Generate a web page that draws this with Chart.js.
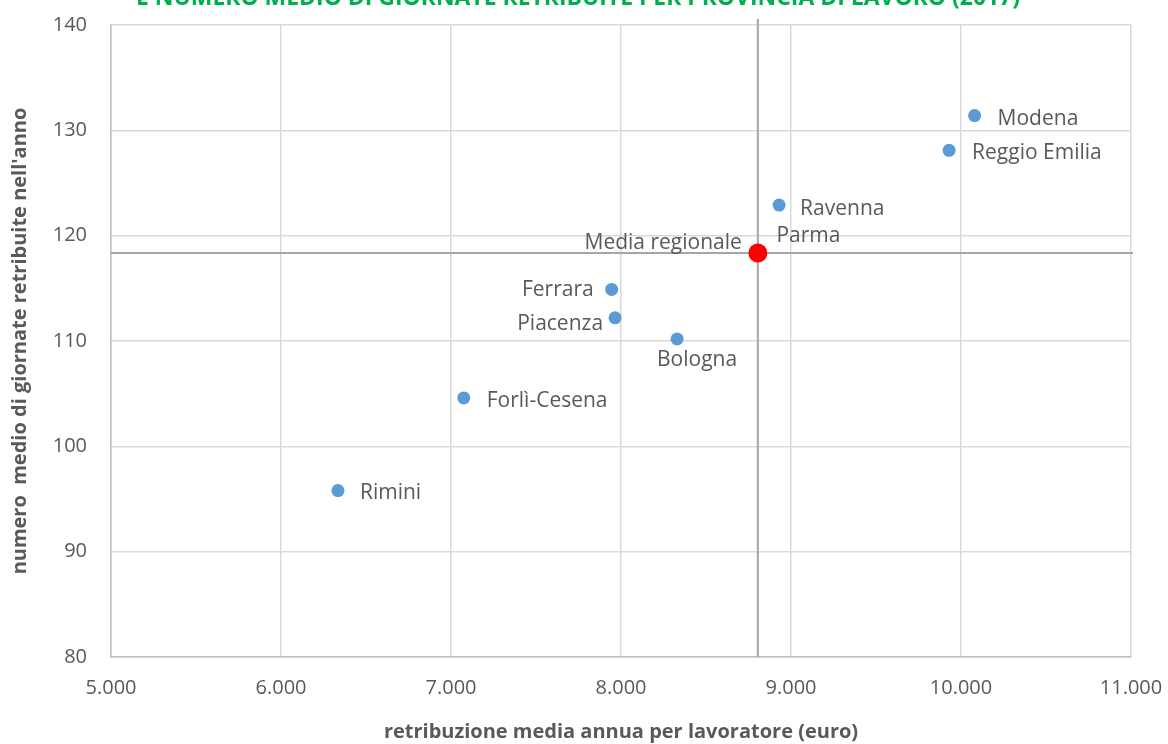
<!DOCTYPE html>
<html>
<head>
<meta charset="utf-8">
<script src="https://cdn.jsdelivr.net/npm/chart.js@4/dist/chart.umd.min.js"></script>
<style>
  html, body { margin: 0; padding: 0; background: #fff; }
  #wrap { width: 1168px; height: 744px; position: relative; }
</style>
</head>
<body>
<div id="wrap"><canvas id="scatterChart"></canvas></div>
<script>
// Province values: average yearly pay per worker (euro) and paid days per year
const provinces = ['Modena', 'Reggio Emilia', 'Ravenna', 'Parma', 'Ferrara', 'Piacenza', 'Bologna', 'Forlì-Cesena', 'Rimini'];
const payValues = [10080, 9930, 8930, 8820, 7945, 7965, 8330, 7075, 6335];
const dayValues = [131.4, 128.1, 122.9, 118.4, 114.9, 112.2, 110.2, 104.6, 95.8];

// Regional average
const mediaLabel = 'Media regionale';
const mediaPay = 8805;
const mediaDays = 118.35;

const xTicks = [5000, 6000, 7000, 8000, 9000, 10000, 11000];
const yTicks = [80, 90, 100, 110, 120, 130, 140];

const titleText = 'E NUMERO MEDIO DI GIORNATE RETRIBUITE PER PROVINCIA DI LAVORO (2017)';
const xTitle = 'retribuzione media annua per lavoratore (euro)';
const yTitle = 'numero  medio di giornate retribuite nell\'anno';

// where each label sits relative to its point: [dx, dy, align]
const labelPlacement = {
    'Modena': [23, 3, 'left'],
    'Reggio Emilia': [23, 3, 'left'],
    'Ravenna': [21, 4, 'left'],
    'Parma': [16, -17, 'left'],
    'Ferrara': [-18, 1, 'right'],
    'Piacenza': [-12, 6, 'right'],
    'Bologna': [20, 21, 'center'],
    'Forlì-Cesena': [23, 3, 'left'],
    'Rimini': [22, 2, 'left'],
    'Media regionale': [-16, -10, 'right']
};

const FONT = '"Open Sans", sans-serif';
const GREY_TEXT = '#595959';

// green heading, cut by the top edge
const headingPlugin = {
    id: 'heading',
    afterDraw(chart) {
        const ctx = chart.ctx;
        ctx.save();
        ctx.fillStyle = '#00b050';
        ctx.font = 'bold 23px ' + FONT;
        ctx.textAlign = 'center';
        ctx.textBaseline = 'alphabetic';
        ctx.fillText(titleText, 578, 5, 884);
        ctx.restore();
    }
};

// crossing lines at the regional average
const averageLinesPlugin = {
    id: 'averageLines',
    beforeDatasetsDraw(chart) {
        const ctx = chart.ctx;
        const x = chart.scales.x.getPixelForValue(mediaPay);
        const y = chart.scales.y.getPixelForValue(mediaDays);
        const area = chart.chartArea;
        ctx.save();
        ctx.strokeStyle = '#a6a6a6';
        ctx.lineWidth = 2;
        ctx.beginPath();
        ctx.moveTo(area.left, y);
        ctx.lineTo(area.right + 2, y);
        ctx.moveTo(x, area.top - 6);
        ctx.lineTo(x, area.bottom);
        ctx.stroke();
        ctx.restore();
    }
};

// province names next to the points
const pointLabelsPlugin = {
    id: 'pointLabels',
    afterDatasetsDraw(chart) {
        const ctx = chart.ctx;
        ctx.save();
        ctx.font = '21px ' + FONT;
        ctx.fillStyle = GREY_TEXT;
        ctx.textBaseline = 'middle';
        chart.data.datasets.forEach((ds, i) => {
            const meta = chart.getDatasetMeta(i);
            meta.data.forEach((pt, j) => {
                const name = ds.names[j];
                const p = labelPlacement[name];
                if (!p) return;
                ctx.textAlign = p[2];
                ctx.fillText(name, pt.x + p[0], pt.y + p[1]);
            });
        });
        ctx.restore();
    }
};

// keep tick labels from pushing the plot area around
function noOverflow(scale) {
    scale.paddingLeft = 0;
    scale.paddingRight = 0;
    scale.paddingTop = 0;
    scale.paddingBottom = 0;
}

const ctx = document.getElementById('scatterChart').getContext('2d');
const chart = new Chart(ctx, {
    type: 'scatter',
    data: {
        datasets: [{
            names: provinces,
            data: provinces.map((p, i) => ({ x: payValues[i], y: dayValues[i] })),
            backgroundColor: '#5b9bd5',
            borderWidth: 0,
            pointRadius: 6.5,
            order: 1
        }, {
            names: [mediaLabel],
            data: [{ x: mediaPay, y: mediaDays }],
            backgroundColor: '#ff0000',
            borderWidth: 0,
            pointRadius: 9.5,
            order: 0
        }]
    },
    options: {
        responsive: true,
        maintainAspectRatio: false,
        animation: false,
        layout: { padding: { top: 25, right: 37, left: 0, bottom: 0 } },
        scales: {
            x: {
                type: 'linear',
                min: 5000,
                max: 11000,
                afterBuildTicks: (scale) => { scale.ticks = xTicks.map(v => ({ value: v })); },
                afterFit: (scale) => { scale.height = 87; noOverflow(scale); },
                grid: { color: '#d9d9d9', lineWidth: 1.5, drawTicks: false },
                border: { color: '#bfbfbf', width: 1.5 },
                ticks: {
                    padding: 19,
                    color: GREY_TEXT,
                    font: { family: FONT, size: 20 },
                    callback: (v) => String(v).replace(/\B(?=(\d{3})+(?!\d))/g, '.')
                },
                title: {
                    display: true,
                    text: xTitle,
                    color: GREY_TEXT,
                    font: { family: FONT, size: 20, weight: 'bold' },
                    padding: { top: 0, bottom: 0 }
                }
            },
            y: {
                min: 80,
                max: 140,
                afterBuildTicks: (scale) => { scale.ticks = yTicks.map(v => ({ value: v })); },
                afterFit: (scale) => { scale.width = 111; noOverflow(scale); },
                grid: { color: '#d9d9d9', lineWidth: 1.5, drawTicks: false },
                border: { color: '#bfbfbf', width: 1.5 },
                ticks: {
                    padding: 24,
                    color: GREY_TEXT,
                    font: { family: FONT, size: 20 }
                },
                title: {
                    display: true,
                    text: yTitle,
                    color: GREY_TEXT,
                    font: { family: FONT, size: 20, weight: 'bold' },
                    padding: { top: 8, bottom: 0 }
                }
            }
        },
        plugins: {
            legend: { display: false },
            tooltip: { enabled: false }
        }
    },
    plugins: [averageLinesPlugin, pointLabelsPlugin, headingPlugin]
});
</script>
</body>
</html>
